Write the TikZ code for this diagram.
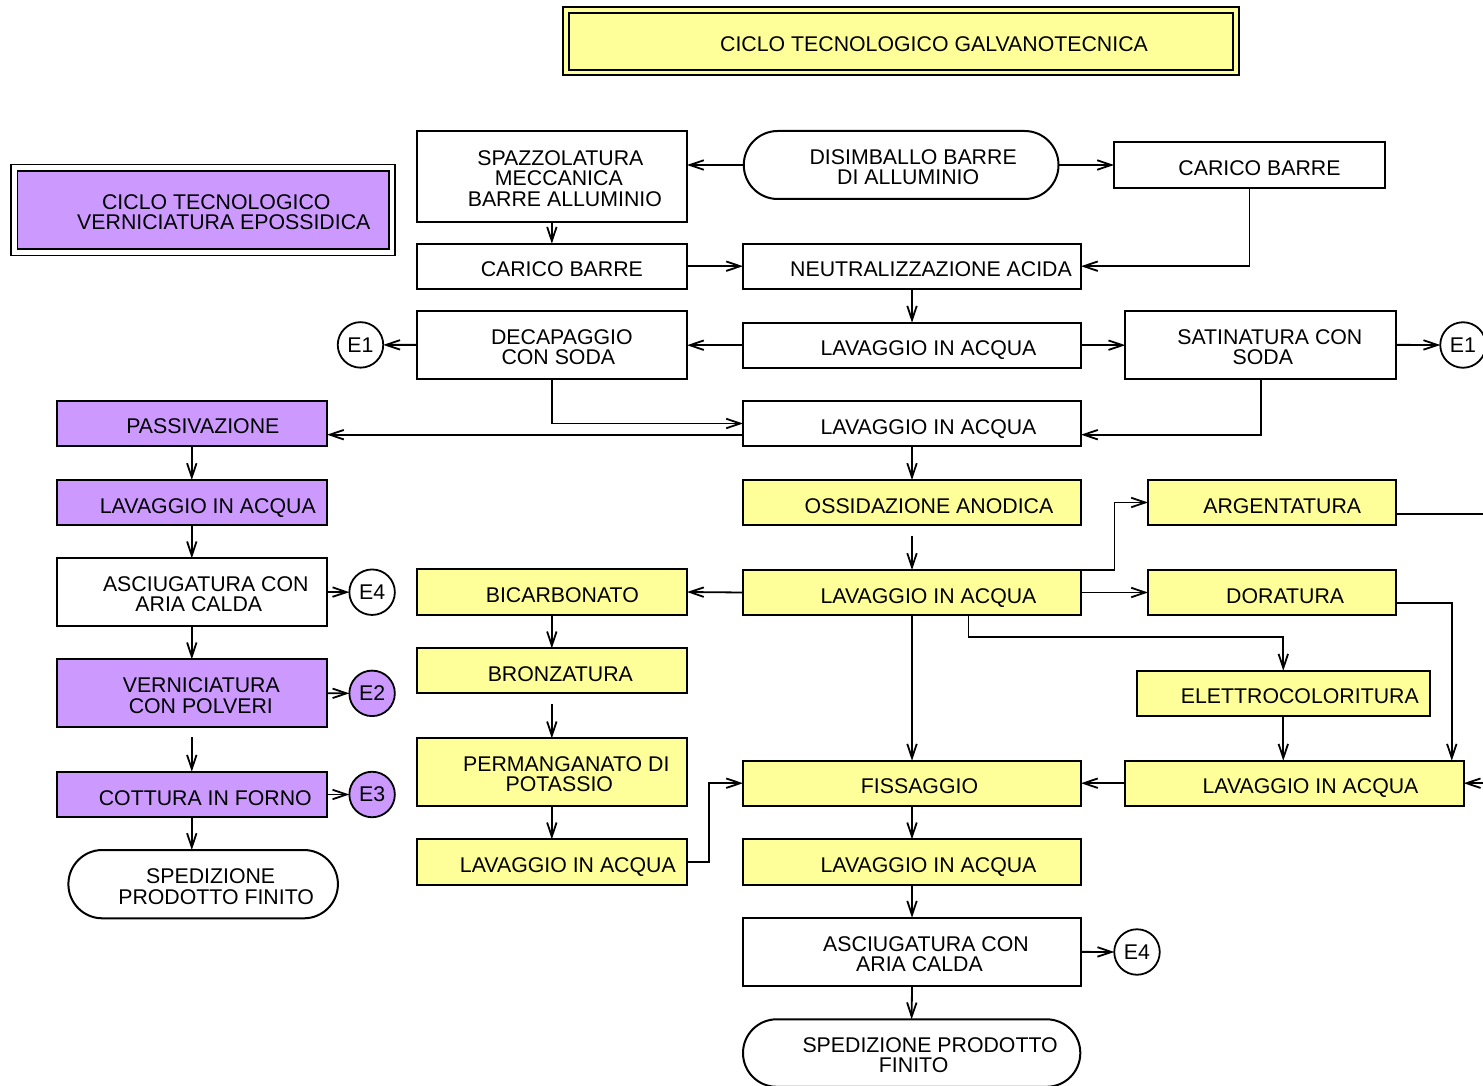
\documentclass[tikz,border=0pt]{standalone}
\usepackage{fontspec}
\setmainfont{Liberation Sans}
\usetikzlibrary{arrows.meta,calc}
\definecolor{ylw}{HTML}{FFFF99}
\definecolor{prp}{HTML}{CC99FF}
\newcommand\tsh[2]{\rule{0pt}{19.5pt}\hspace*{#1pt}#2}
\begin{document}
\begin{tikzpicture}[x=1pt,y=-1pt,
  every node/.style={font=\fontsize{21.3}{20.5}\selectfont, inner sep=0pt, outer sep=0pt},
  sz/.style 2 args={minimum width=#1pt, minimum height=#2pt},
  proc/.style={draw, line width=2pt, rectangle, align=center},
  one/.style={text height=21pt, text depth=0pt},
  yel/.style={proc, fill=ylw},
  pur/.style={proc, fill=prp},
  term/.style={proc, rounded corners=#1pt},
  emis/.style={draw, circle, line width=1.8pt, minimum size=45.5pt, inner sep=0pt, fill=white},
  arr/.style={line width=1.8pt, -{Straight Barb[length=14pt,width=9.5pt,line width=1.8pt]}}
]
\useasboundingbox (0,0) rectangle (1483,1086);
\fill[white] (0,0) rectangle (1483,1086);

% titles
\node[draw, line width=1.8pt, double=ylw, double distance=3.8pt, fill=ylw, sz={670}{62.5}, one] (title) at (901,41.2) {\tsh{66}{CICLO TECNOLOGICO GALVANOTECNICA}};
\node[draw, line width=1.8pt, double=white, double distance=4.4pt, fill=prp, sz={377.8}{84.6}, align=center] (ptitle) at (203.3,210) {\tsh{26}{CICLO TECNOLOGICO}\\\tsh{41}{VERNICIATURA EPOSSIDICA}};

% top part
\node[proc, sz={270.3}{90.7}] (spaz) at (551.85,176.35) {\tsh{17}{SPAZZOLATURA}\\\tsh{14}{MECCANICA}\\\tsh{26}{BARRE ALLUMINIO}};
\node[proc, one, sz={270.3}{45}] (caricoL) at (551.85,266.2) {\tsh{20}{CARICO BARRE}};
\node[term=33.9, sz={314.7}{68}] (disimb) at (901.15,165) {\tsh{24}{DISIMBALLO BARRE}\\\tsh{14}{DI ALLUMINIO}};
\node[proc, one, sz={271}{45.4}] (caricoR) at (1249.5,165) {\tsh{20}{CARICO BARRE}};
\node[proc, one, sz={338}{45}] (neutr) at (912,266.2) {\tsh{38}{NEUTRALIZZAZIONE ACIDA}};
\node[proc, one, sz={338}{45}] (lav1) at (912,345.2) {\tsh{33}{LAVAGGIO IN ACQUA}};
\node[proc, sz={271.1}{67.7}] (satin) at (1260.85,344.85) {\tsh{18}{SATINATURA CON}\\\tsh{4}{SODA}};
\node[proc, sz={270.3}{67.7}] (decap) at (551.85,344.85) {\tsh{20}{DECAPAGGIO}\\\tsh{13}{CON SODA}};
\node[emis] (e1l) at (360.5,344.9) {E1};
\node[emis] (e1r) at (1463,345) {E1};
\node[proc, one, sz={338}{45}] (lav2) at (912,423.5) {\tsh{33}{LAVAGGIO IN ACQUA}};

% galvanotecnica yellow
\node[yel, one, sz={338}{45}] (ossid) at (912,502.5) {\tsh{34}{OSSIDAZIONE ANODICA}};
\node[yel, one, sz={248.4}{45}] (argent) at (1272.2,502.5) {\tsh{20}{ARGENTATURA}};
\node[yel, one, sz={338}{45}] (lav3) at (912,592.5) {\tsh{33}{LAVAGGIO IN ACQUA}};
\node[yel, one, sz={248.4}{45}] (dorat) at (1272.2,592.5) {\tsh{26}{DORATURA}};
\node[yel, one, sz={270.3}{45.4}] (bicarb) at (551.85,592) {\tsh{21}{BICARBONATO}};
\node[yel, one, sz={270.3}{45}] (bronz) at (551.85,670.8) {\tsh{17}{BRONZATURA}};
\node[yel, sz={270.3}{67.4}] (perm) at (551.85,772) {\tsh{29}{PERMANGANATO DI}\\\tsh{15}{POTASSIO}};
\node[yel, one, sz={270.3}{45.7}] (lavM) at (551.85,862.15) {\tsh{32}{LAVAGGIO IN ACQUA}};
\node[yel, one, sz={292.6}{45.3}] (elettro) at (1283.3,693.35) {\tsh{33}{ELETTROCOLORITURA}};
\node[yel, one, sz={338.4}{45}] (lavR) at (1294.5,783.2) {\tsh{32}{LAVAGGIO IN ACQUA}};
\node[yel, one, sz={338}{45}] (fiss) at (912,783.2) {\tsh{15}{FISSAGGIO}};
\node[yel, one, sz={338}{45.7}] (lav4) at (912,862.15) {\tsh{33}{LAVAGGIO IN ACQUA}};
\node[proc, sz={338}{68.3}] (asc2) at (912,951.85) {\tsh{28}{ASCIUGATURA CON}\\\tsh{15}{ARIA CALDA}};
\node[emis] (e4r) at (1137,952) {E4};
\node[term=33.7, sz={337.3}{67.5}] (sped2) at (911.65,1053.05) {\tsh{37}{SPEDIZIONE PRODOTTO}\\\tsh{4}{FINITO}};

% verniciatura purple
\node[pur, one, sz={270.4}{45.3}] (pass) at (191.8,423.35) {\tsh{22}{PASSIVAZIONE}};
\node[pur, one, sz={270.4}{45}] (lavL) at (191.8,502.5) {\tsh{32}{LAVAGGIO IN ACQUA}};
\node[proc, sz={270.4}{67.4}] (ascL) at (191.8,592) {\tsh{28}{ASCIUGATURA CON}\\\tsh{14}{ARIA CALDA}};
\node[emis] (e4l) at (372.1,592.2) {E4};
\node[pur, sz={270.4}{68}] (vern) at (191.8,693.3) {\tsh{19}{VERNICIATURA}\\\tsh{18}{CON POLVERI}};
\node[emis, fill=prp] (e2) at (372.1,693.35) {E2};
\node[pur, one, sz={270.4}{45.6}] (cott) at (191.8,794.5) {\tsh{27}{COTTURA IN FORNO}};
\node[emis, fill=prp] (e3) at (372.1,794.5) {E3};
\node[term=34, sz={269.5}{68.3}] (spedL) at (203.15,884.15) {\tsh{15}{SPEDIZIONE}\\\tsh{26}{PRODOTTO FINITO}};

% connectors top
\draw[arr] (disimb.west) -- (disimb.west -| spaz.east);
\draw[arr] (disimb.east) -- (caricoR.west);
\draw[arr] (spaz.south) -- (caricoL.north);
\draw[arr] (caricoL.east) -- (neutr.west);
\draw[arr] (caricoR.south) |- (neutr.east);
\draw[arr] (neutr.south) -- (lav1.north);
\draw[arr] (lav1.east) -- (lav1.east -| satin.west);
\draw[arr] (satin.east) -- (e1r.west);
\draw[arr] (lav1.west) -- (lav1.west -| decap.east);
\draw[arr] (decap.west) -- (e1l.east);
\draw[arr] (decap.south) |- (lav2.west);
\draw[arr] (satin.south) |- ([yshift=-11.2pt]lav2.east);
\coordinate (lp) at ([yshift=-11.2pt]lav2.west);
\draw[arr] (lp) -- (lp -| pass.east);
\draw[arr] (lav2.south) -- (ossid.north);

% galvanotecnica
\draw[arr, shorten <=10.7pt] (ossid.south) -- (lav3.north);
\draw[arr] (lav3.north east) -- ++(33.4,0) |- (argent.west);
\draw[arr] (lav3.east) -- (dorat.west);
\draw[arr] (lav3.west) -- (bicarb.east);
\draw[arr] (lav3.south) -- (fiss.north);
\draw[arr] ([xshift=56.4pt]lav3.south) -- ++(0,21.7) -| (elettro.north);
\draw[arr] ([yshift=-10.8pt]dorat.east) -| ([xshift=-11.9pt]lavR.north east);
\draw[arr] ([yshift=-11.5pt]argent.east) -- ++(110,0) |- (lavR.east);
\draw[arr] (elettro.south) -- (elettro.south |- lavR.north);
\draw[arr] (lavR.west) -- (fiss.east);
\draw[arr] (fiss.south) -- (lav4.north);
\draw[arr] (lav4.south) -- (asc2.north);
\draw[arr] (asc2.east) -- (e4r.west);
\draw[arr] (asc2.south) -- (sped2.north);
\draw[arr] (bicarb.south) -- (bronz.north);
\draw[arr, shorten <=10.7pt] (bronz.south) -- (perm.north);
\draw[arr] (perm.south) -- (lavM.north);
\draw[arr] (lavM.east) -- ++(22.3,0) |- (fiss.west);

% verniciatura
\draw[arr] (pass.south) -- (lavL.north);
\draw[arr] (lavL.south) -- (ascL.north);
\draw[arr] (ascL.east) -- (e4l.west);
\draw[arr] (ascL.south) -- (vern.north);
\draw[arr] (vern.east) -- (e2.west);
\draw[arr, shorten <=10pt] (vern.south) -- (cott.north);
\draw[arr] (cott.east) -- (e3.west);
\draw[arr] (cott.south) -- (cott.south |- spedL.north);
\end{tikzpicture}
\end{document}
